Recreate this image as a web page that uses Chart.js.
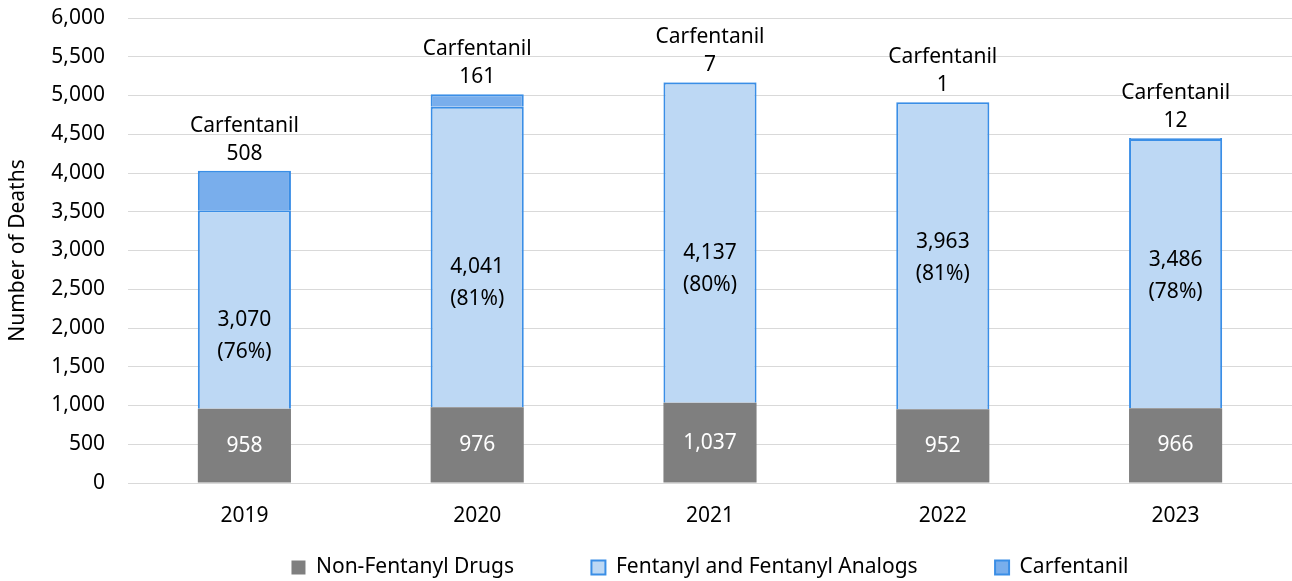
<!DOCTYPE html>
<html>
<head>
<meta charset="utf-8">
<script src="https://cdn.jsdelivr.net/npm/chart.js@4.4.1/dist/chart.umd.min.js"></script>
<style>
  html, body { margin: 0; padding: 0; background: #fff; }
  #wrap { width: 1292px; height: 581px; }
</style>
</head>
<body>
<div id="wrap"><canvas id="deaths"></canvas></div>
<script>
var years = ["2019", "2020", "2021", "2022", "2023"];
var nonFentanyl = [958, 976, 1037, 952, 966];
var fentanylAll = [3070, 4041, 4137, 3963, 3486];
var carfentanil = [508, 161, 7, 1, 12];
var yTicks = [0, 500, 1000, 1500, 2000, 2500, 3000, 3500, 4000, 4500, 5000, 5500, 6000];

// carfentanil is part of the fentanyl count, so it sits on top of the rest
var fentanylOther = fentanylAll.map(function(v, i) { return v - carfentanil[i]; });
var pct = fentanylAll.map(function(v, i) { return Math.round(v / (v + nonFentanyl[i]) * 100); });

var FONT = "Noto Sans";
var SIZE = 21;
var fmt = function(n) { return n.toLocaleString("en-US"); };
var nudge = [27, 26, 26, 2, 2];
var gap = "              ";

var labelPlugin = {
    id: "barLabels",
    afterDatasetsDraw: function(chart) {
        var ctx = chart.ctx;
        ctx.save();
        ctx.font = SIZE + "px " + FONT;
        ctx.textAlign = "center";
        ctx.textBaseline = "middle";

        var gray = chart.getDatasetMeta(0).data;
        var fent = chart.getDatasetMeta(1).data;
        var carf = chart.getDatasetMeta(2).data;

        for (var i = 0; i < years.length; i++) {
            ctx.fillStyle = "#ffffff";
            ctx.fillText(fmt(nonFentanyl[i]), gray[i].x, (gray[i].y + gray[i].base) / 2);

            ctx.fillStyle = "#000000";
            var mid = (fent[i].y + fent[i].base) / 2 + nudge[i];
            ctx.fillText(fmt(fentanylAll[i]), fent[i].x, mid - 16);
            ctx.fillText("(" + pct[i] + "%)", fent[i].x, mid + 16);

            ctx.fillText(fmt(carfentanil[i]), carf[i].x, carf[i].y - 17);
            ctx.fillText("Carfentanil", carf[i].x, carf[i].y - 45);
        }
        ctx.restore();
    }
};

var ctx = document.getElementById("deaths").getContext("2d");
var myChart = new Chart(ctx, {
    type: "bar",
    data: {
        labels: years,
        datasets: [{
            label: "Non-Fentanyl Drugs",
            data: nonFentanyl,
            backgroundColor: "#7f7f7f",
            borderColor: "#7f7f7f",
            borderWidth: 0
        }, {
            label: "Fentanyl and Fentanyl Analogs",
            data: fentanylOther,
            backgroundColor: "#bdd8f4",
            borderColor: "#3a8ee6",
            borderWidth: 2
        }, {
            label: "Carfentanil",
            data: carfentanil,
            backgroundColor: "#79aeec",
            borderColor: "#3a8ee6",
            borderWidth: 2
        }]
    },
    options: {
        responsive: true,
        maintainAspectRatio: false,
        animation: false,
        barPercentage: 0.4,
        categoryPercentage: 1,
        layout: { padding: { left: 0, right: 0, top: 18, bottom: -7 } },
        plugins: {
            tooltip: { enabled: false },
            legend: {
                position: "bottom",
                fullSize: false,
                labels: {
                    font: { family: FONT, size: SIZE },
                    color: "#000",
                    boxWidth: 14,
                    boxHeight: 14,
                    padding: 1,
                    generateLabels: function(chart) {
                        var items = Chart.defaults.plugins.legend.labels.generateLabels(chart);
                        items.forEach(function(it, i) {
                            it.lineWidth = i == 0 ? 0 : 2;
                            if (i < items.length - 1) it.text = it.text + gap;
                        });
                        return items;
                    }
                }
            }
        },
        scales: {
            x: {
                stacked: true,
                afterFit: function(axis) { axis.height = 73; },
                grid: { display: false, drawTicks: false },
                border: { color: "#d9d9d9" },
                ticks: { font: { family: FONT, size: SIZE }, color: "#000", padding: 20 }
            },
            y: {
                stacked: true,
                min: 0,
                max: 6000,
                afterBuildTicks: function(axis) {
                    axis.ticks = yTicks.map(function(v) { return { value: v }; });
                },
                afterFit: function(axis) { axis.width = 128; },
                grid: { color: "#d9d9d9", drawTicks: true, tickLength: 21, tickColor: "rgba(0,0,0,0)" },
                border: { display: false },
                ticks: {
                    font: { family: FONT, size: SIZE },
                    color: "#000",
                    padding: 2,
                    callback: function(v) { return fmt(v); }
                },
                title: {
                    display: true,
                    text: "Number of Deaths",
                    font: { family: FONT, size: SIZE },
                    color: "#000",
                    padding: { top: 5, bottom: 0 }
                }
            }
        }
    },
    plugins: [labelPlugin]
});
</script>
</body>
</html>
